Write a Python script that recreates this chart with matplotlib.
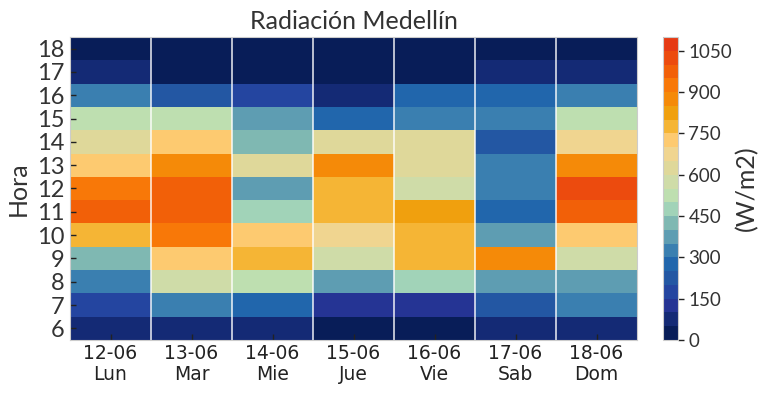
import matplotlib
matplotlib.use("Agg")
import matplotlib.pyplot as plt
import numpy as np
from matplotlib.colors import ListedColormap, BoundaryNorm

days = ["12-06\nLun", "13-06\nMar", "14-06\nMie", "15-06\nJue", "16-06\nVie", "17-06\nSab", "18-06\nDom"]
hours = [6, 7, 8, 9, 10, 11, 12, 13, 14, 15, 16, 17, 18]

# radiation (W/m2), per day, hours 6..18
lun = [75, 175, 325, 425, 775, 975, 925, 725, 625, 525, 325, 75, 25]
mar = [75, 325, 575, 725, 925, 975, 975, 875, 725, 525, 225, 25, 25]
mie = [75, 275, 525, 775, 725, 475, 375, 625, 425, 375, 175, 25, 25]
jue = [25, 125, 375, 575, 675, 775, 775, 875, 625, 275, 75, 25, 25]
vie = [25, 125, 475, 775, 775, 825, 575, 625, 625, 325, 275, 25, 25]
sab = [75, 225, 375, 875, 375, 275, 325, 325, 225, 325, 275, 75, 25]
dom = [75, 325, 375, 575, 725, 975, 1025, 875, 675, 525, 325, 75, 25]

colors = ["#081d58", "#142a75", "#253494", "#2445a0", "#2357a3", "#2166ac",
          "#3a7fb0", "#5e9db2", "#7fb8b2", "#a1d3b8", "#bedfb0", "#cfdca8",
          "#dfd89a", "#f0d590", "#fdca70", "#f5b535", "#f0a00e", "#f58a08",
          "#f87808", "#f26008", "#ec4b0e", "#e63a14"]
levels = np.arange(0, 1101, 50)

data = np.array([lun, mar, mie, jue, vie, sab, dom]).T

plt.rcParams["font.family"] = ["Lato", "DejaVu Sans"]
fig = plt.figure(figsize=(7.64, 3.95), dpi=100)
ax = fig.add_axes([70/764, 1-340/395, 567/764, 303/395])
cax = fig.add_axes([663/764, 1-340/395, 15/764, 303/395])

cmap = ListedColormap(colors)
norm = BoundaryNorm(levels, cmap.N)
mesh = ax.pcolormesh(np.arange(len(days)+1), np.arange(len(hours)+1), data, cmap=cmap, norm=norm)
for x in range(1, len(days)):
    ax.axvline(x, color="white", lw=1.2, alpha=0.85)

ax.set_xlim(0, len(days))
ax.set_ylim(0, len(hours))
ax.set_xticks(np.arange(len(days)) + 0.5)
ax.set_xticklabels(days, fontsize=13.5, family="DejaVu Sans", color="#222222", linespacing=1.15)
ax.set_yticks(np.arange(len(hours)) + 0.5)
ax.set_yticklabels([str(h) for h in hours], fontsize=17, color="#333333")
ax.tick_params(axis="both", direction="in", length=4, width=1, color="#222222", pad=3)
ax.tick_params(axis="y", pad=4)
for s in ax.spines.values():
    s.set_color("#cccccc")
ax.set_ylabel("Hora", fontsize=18, color="#333333", labelpad=5)
ax.set_title("Radiación Medellín", fontsize=18, color="#333333", pad=6)

cb = fig.colorbar(mesh, cax=cax, ticks=np.arange(0, 1051, 150))
cb.ax.minorticks_off()
cb.ax.tick_params(labelsize=13.5, length=4, width=1, color="#222222", labelcolor="#333333")
cb.outline.set_edgecolor("#cccccc")
cb.set_label("(W/m2)", fontsize=18, color="#333333", labelpad=2)

fig.savefig("out.png", dpi=100)
